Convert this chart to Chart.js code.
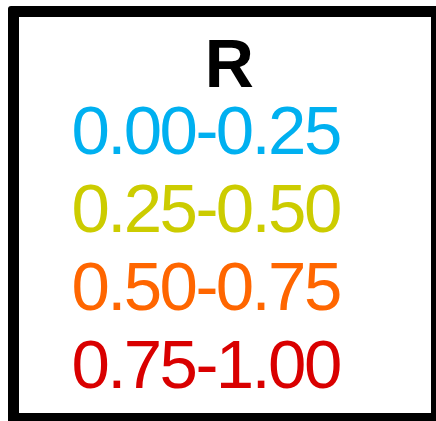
<!DOCTYPE html>
<html>
<head>
<meta charset="utf-8">
<script src="https://cdn.jsdelivr.net/npm/chart.js@4/dist/chart.umd.min.js"></script>
<style>
  html, body { margin: 0; padding: 0; background: #fff; overflow: hidden; }
  #quadro {
    position: absolute;
    left: 8px;
    top: 6px;
    width: 412px;
    height: 396px;
    border: 11px solid #000;
    border-radius: 3px;
    background: #fff;
  }
  #grafico { display: block; }
</style>
</head>
<body>
<div id="quadro">
  <canvas id="grafico" width="412" height="396"></canvas>
</div>
<script>
const tituloLegenda = "R";
const faixas = ["0.00-0.25", "0.25-0.50", "0.50-0.75", "0.75-1.00"];
const coresFaixas = ["#00b0f0", "#cccc00", "#ff6600", "#d90000"];

const fonteTexto = "'Liberation Sans', Arial, sans-serif";

// letras mais juntas, como no original
const espacamento = {
  id: "espacamento",
  beforeDraw(c) {
    c.ctx.letterSpacing = "-2.6px";
  }
};

const canvas = document.getElementById("grafico");

const chart = new Chart(canvas.getContext("2d"), {
  type: "bar",
  data: {
    labels: [],
    datasets: faixas.map((faixa, i) => ({
      label: faixa,
      data: [],
      backgroundColor: coresFaixas[i]
    }))
  },
  options: {
    responsive: false,
    animation: false,
    devicePixelRatio: 1,
    layout: { padding: { left: 6, right: 0, top: 0, bottom: 0 } },
    scales: {
      x: { display: false },
      y: { display: false }
    },
    plugins: {
      tooltip: { enabled: false },
      title: {
        display: true,
        text: tituloLegenda,
        color: "#000",
        align: "center",
        font: { family: fonteTexto, size: 68, weight: "bold", lineHeight: 0.6 },
        padding: { top: 31, bottom: 3 }
      },
      legend: {
        display: true,
        position: "top",
        align: "start",
        maxHeight: 390,
        labels: {
          boxWidth: 3,
          boxHeight: 0,
          padding: 9,
          font: { family: fonteTexto, size: 69 },
          generateLabels: (c) =>
            c.data.datasets.map((ds, i) => ({
              text: ds.label,
              fontColor: ds.backgroundColor,
              fillStyle: "rgba(0,0,0,0)",
              strokeStyle: "rgba(0,0,0,0)",
              lineWidth: 0,
              hidden: false,
              datasetIndex: i
            }))
        }
      }
    }
  },
  plugins: [espacamento]
});
</script>
</body>
</html>
